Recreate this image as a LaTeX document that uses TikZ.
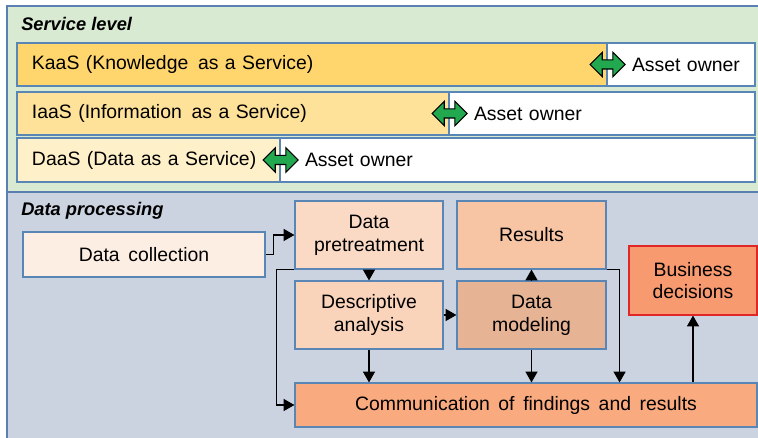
\documentclass[tikz,border=0pt]{standalone}
\usepackage{fontspec}
\setmainfont{Liberation Sans}
\usetikzlibrary{shapes.arrows, arrows.meta}

\definecolor{svcgreen}{HTML}{D9EAD3}
\definecolor{procblue}{HTML}{CBD3E0}
\definecolor{paneledge}{HTML}{5B7FB0}
\definecolor{boxedge}{HTML}{5A86B5}
\definecolor{kaasfill}{HTML}{FFD66E}
\definecolor{iaasfill}{HTML}{FFE29A}
\definecolor{daasfill}{HTML}{FEF0C8}
\definecolor{colfill}{HTML}{FDEEE4}
\definecolor{pretfill}{HTML}{FADAC5}
\definecolor{descfill}{HTML}{F9D3BA}
\definecolor{resfill}{HTML}{F7C4A4}
\definecolor{modfill}{HTML}{E6B394}
\definecolor{commfill}{HTML}{F9AA7E}
\definecolor{bizfill}{HTML}{F89A6F}
\definecolor{bizedge}{HTML}{E02626}
\definecolor{linkgreen}{HTML}{22A84E}

\begin{document}
\begin{tikzpicture}[
  font=\fontsize{13.8}{16.2}\selectfont,
  panel/.style={draw=paneledge, line width=1pt},
  bar/.style={draw=boxedge, line width=0.8pt, inner xsep=0pt, align=left},
  box/.style={draw=boxedge, line width=0.8pt, align=center},
  title/.style={anchor=west, inner sep=0pt, font=\fontsize{13}{15}\selectfont\bfseries\itshape},
  link/.style={shape=double arrow, draw=black, fill=linkgreen, line width=0.8pt,
    inner xsep=0pt, inner ysep=0.1cm, minimum height=0.875cm,
    double arrow head extend=0.19cm},
  arr/.style={black, line width=0.9pt, -{Triangle[length=0.27cm, width=0.3cm]}}
]
\useasboundingbox (0, 0) rectangle (18.95, 10.95);

% panels
\draw[panel, fill=svcgreen] (0.175, 6.15) rectangle (19.1, 10.8);
\draw[panel, fill=procblue] (0.175, -0.1) rectangle (19.1, 6.15);
\node[title] (svc) at (0.525, 10.35) {Service level};
\node[title] (proc) at (0.525, 5.675) {Data processing};

% service level
\node[bar, fill=kaasfill, text width=14.75cm, minimum height=1.075cm] (kaas) at (7.8, 9.3375) {\hspace*{0.375cm}KaaS (Knowledge\, as a Service)};
\node[bar, fill=white, text width=3.7cm, minimum height=1.075cm] (kaasown) at (17.025, 9.3375) {\hspace*{0.625cm}Asset owner};
\node[bar, fill=iaasfill, text width=10.8cm, minimum height=1.075cm] (iaas) at (5.825, 8.1125) {\hspace*{0.375cm}IaaS (Information\, as a Service)};
\node[bar, fill=white, text width=7.65cm, minimum height=1.075cm] (iaasown) at (15.05, 8.1125) {\hspace*{0.625cm}Asset owner};
\node[bar, fill=daasfill, text width=6.575cm, minimum height=1.1cm] (daas) at (3.7125, 6.95) {\hspace*{0.375cm}DaaS (Data as a Service)};
\node[bar, fill=white, text width=11.875cm, minimum height=1.1cm] (daasown) at (12.9375, 6.95) {\hspace*{0.625cm}Asset owner};
\node[link] (kaaslink) at (kaas.east) {};
\node[link] (iaaslink) at (iaas.east) {};
\node[link] (daaslink) at (daas.east) {};

% data processing
\node[box, fill=colfill, minimum width=6.05cm, minimum height=1.125cm] (dcol) at (3.6, 4.5875) {Data\, collection};
\node[box, fill=pretfill, minimum width=3.7cm, minimum height=1.7cm] (pret) at (9.225, 5.075) {Data\\pretreatment};
\node[box, fill=descfill, minimum width=3.7cm, minimum height=1.7cm] (desc) at (9.225, 3.075) {Descriptive\\analysis};
\node[box, fill=resfill, minimum width=3.725cm, minimum height=1.7cm] (res) at (13.2875, 5.075) {Results};
\node[box, fill=modfill, minimum width=3.725cm, minimum height=1.7cm] (model) at (13.2875, 3.075) {Data\\modeling};
\node[box, fill=bizfill, draw=bizedge, minimum width=3.2cm, minimum height=1.725cm] (biz) at (17.325, 3.9375) {Business\\decisions};
\node[box, fill=commfill, minimum width=11.55cm, minimum height=1.1cm] (comm) at (13.15, 0.825) {Communication\, of\, findings\, and\, results};

\draw[arr] (dcol.east) -- ++(0.2, 0) |- (pret.west);
\draw[arr] (pret) -- (desc);
\draw[arr] (pret.south west) -- ++(-0.45, 0) |- (comm.west);
\draw[arr] (desc.south) -- (desc.south |- comm.north);
\draw[arr] (desc) -- (model);
\draw[arr] (model) -- (res);
\draw[arr] (model.south) -- (model.south |- comm.north);
\draw[arr] (res.south east) -- ++(0.325, 0) coordinate (resturn) -- (resturn |- comm.north);
\draw[arr] (biz.south |- comm.north) -- (biz.south);
\end{tikzpicture}
\end{document}
